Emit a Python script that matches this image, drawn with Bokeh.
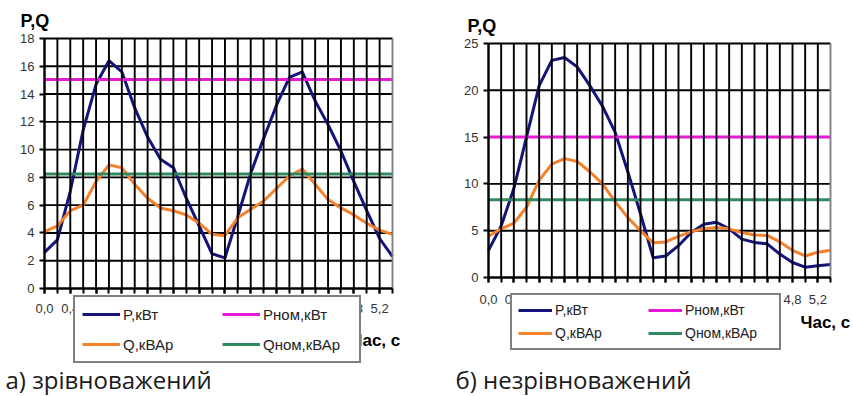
from bokeh.plotting import figure
from bokeh.models import Range1d, FixedTicker, CustomJSTickFormatter, Legend, LegendItem, Label
from bokeh.layouts import row
from bokeh.embed import file_html
from bokeh.resources import INLINE

# ---- data ----
time_s = [0.0, 0.2, 0.4, 0.6, 0.8, 1.0, 1.2, 1.4, 1.6, 1.8, 2.0, 2.2, 2.4, 2.6,
          2.8, 3.0, 3.2, 3.4, 3.6, 3.8, 4.0, 4.2, 4.4, 4.6, 4.8, 5.0, 5.2, 5.4]
x_label_ticks = [0.0, 0.4, 0.8, 1.2, 1.6, 2.0, 2.4, 2.8, 3.2, 3.6, 4.0, 4.4, 4.8, 5.2]

# a) balanced
p_bal = [2.6, 3.5, 7.0, 11.4, 14.7, 16.4, 15.6, 13.0, 10.9, 9.3, 8.7, 6.5, 4.5, 2.5,
         2.2, 5.2, 8.3, 10.8, 13.2, 15.2, 15.6, 13.5, 11.8, 9.9, 7.7, 5.6, 3.6, 2.3]
q_bal = [4.1, 4.5, 5.6, 6.0, 7.7, 8.9, 8.7, 7.5, 6.5, 5.8, 5.6, 5.3, 4.7, 3.9,
         3.8, 5.1, 5.7, 6.3, 7.2, 8.1, 8.6, 7.5, 6.4, 5.8, 5.3, 4.7, 4.2, 3.9]
p_nom_bal = 15.05
q_nom_bal = 8.25
y_ticks_bal = [0, 2, 4, 6, 8, 10, 12, 14, 16, 18]

# b) unbalanced
p_unb = [2.9, 5.5, 9.5, 15.0, 20.5, 23.2, 23.5, 22.5, 20.5, 18.3, 15.5, 11.3, 6.8, 2.1,
         2.3, 3.4, 4.8, 5.7, 5.9, 5.2, 4.1, 3.75, 3.6, 2.5, 1.6, 1.1, 1.25, 1.4]
q_unb = [4.4, 5.2, 5.8, 7.5, 10.4, 12.1, 12.7, 12.4, 11.3, 10.0, 8.1, 6.4, 5.0, 3.7,
         3.8, 4.4, 4.9, 5.2, 5.35, 5.2, 4.8, 4.55, 4.5, 3.8, 2.9, 2.3, 2.7, 2.9]
p_nom_unb = 15.0
q_nom_unb = 8.3
y_ticks_unb = [0, 5, 10, 15, 20, 25]

series_names = ["P,кВт", "Pном,кВт", "Q,кВАр", "Qном,кВАр"]
y_title = "P,Q"
x_title = "Час, с"
captions = ["а) зрівноважений", "б) незрівноважений"]

C_P = "#14147a"
C_PN = "#e619d9"
C_Q = "#f5822a"
C_QN = "#2f8a62"
AX_FONT = "Liberation Sans"
H = 396


def make_chart(p_vals, q_vals, p_nom, q_nom, y_ticks, w, plot_px, legend_loc,
               legend_font, legend_pad, legend_spacing, legend_label_w, glyph_w,
               glyph_h, caption, cap_xy, ytitle_xy, xtitle_xy, xlab_standoff):
    # plot_px = (left, right, top, bottom) of the data area in canvas pixels
    x0 = time_s[0]
    x1 = time_s[-1]
    y0 = y_ticks[0]
    y1 = y_ticks[-1]
    L, R, T, B = plot_px
    kx = (x1 - x0) / (R - L)
    ky = (y1 - y0) / (B - T)
    xr = Range1d(x0 - L * kx, x1 + (w - R) * kx)
    yr = Range1d(y0 - (H - B) * ky, y1 + T * ky)

    p = figure(width=w, height=H, output_backend="svg", toolbar_location=None,
               x_range=xr, y_range=yr, min_border=0, title=None,
               background_fill_color="white", border_fill_color="white")
    p.outline_line_color = None
    p.xgrid.visible = False
    p.ygrid.visible = False

    # horizontal grid (below the series)
    p.segment(x0=x0, y0=y_ticks, x1=x1, y1=y_ticks, line_color="black", line_width=1.9)

    xs = time_s
    rp = p.line(xs, p_vals, line_color=C_P, line_width=3)
    rpn = p.line(xs, [p_nom] * len(xs), line_color=C_PN, line_width=3)
    rq = p.line(xs, q_vals, line_color=C_Q, line_width=3)
    rqn = p.line(xs, [q_nom] * len(xs), line_color=C_QN, line_width=3)

    # vertical grid (drawn above the series, like the original)
    vcols = ["black"] * (len(time_s) - 1) + ["#808080"]
    p.segment(x0=time_s, y0=y0, x1=time_s, y1=y1, line_color=vcols, line_width=1.9)

    # axes, fixed at the origin
    p.xaxis.fixed_location = y0
    p.yaxis.fixed_location = x0
    p.xaxis.bounds = (x0, x1)
    p.yaxis.bounds = (y0, y1)
    p.xaxis.ticker = FixedTicker(ticks=x_label_ticks, minor_ticks=time_s)
    p.xaxis.formatter = CustomJSTickFormatter(code="return tick.toFixed(1).replace('.', ',');")
    p.yaxis.ticker = FixedTicker(ticks=y_ticks, minor_ticks=[])
    for ax in (p.xaxis[0], p.yaxis[0]):
        ax.axis_line_color = "black"
        ax.axis_line_width = 2
        ax.major_tick_line_color = "black"
        ax.major_tick_line_width = 2
        ax.major_tick_in = 0
        ax.major_tick_out = 5
        ax.minor_tick_line_color = "black"
        ax.minor_tick_line_width = 2
        ax.minor_tick_in = 0
        ax.minor_tick_out = 5
        ax.major_label_text_font = AX_FONT
        ax.major_label_text_font_size = "13px"
        ax.major_label_text_color = "#333333"
    p.yaxis.major_label_standoff = 5
    p.xaxis.major_label_standoff = xlab_standoff

    # titles
    p.add_layout(Label(x=ytitle_xy[0], y=ytitle_xy[1], x_units="screen", y_units="screen",
                       text=y_title, text_font=AX_FONT, text_font_style="bold",
                       text_font_size="18px", text_color="black", text_baseline="top"))
    p.add_layout(Label(x=xtitle_xy[0], y=xtitle_xy[1], x_units="screen", y_units="screen",
                       text=x_title, text_font=AX_FONT, text_font_style="bold",
                       text_font_size="17px", text_color="black", text_baseline="middle"))
    p.add_layout(Label(x=cap_xy[0], y=cap_xy[1], x_units="screen", y_units="screen",
                       text=caption, text_font="Open Sans", text_font_size="24px",
                       text_color="#1a1a1a", text_baseline="bottom"))

    legend = Legend(items=[LegendItem(label=series_names[0], renderers=[rp]),
                           LegendItem(label=series_names[1], renderers=[rpn]),
                           LegendItem(label=series_names[2], renderers=[rq]),
                           LegendItem(label=series_names[3], renderers=[rqn])],
                    location=legend_loc, orientation="horizontal", ncols=2,
                    label_text_font=AX_FONT, label_text_font_size=legend_font,
                    label_text_color="#222222", glyph_width=glyph_w, glyph_height=glyph_h,
                    label_standoff=3, padding=legend_pad, spacing=legend_spacing,
                    label_width=legend_label_w, label_height=glyph_h, margin=0,
                    border_line_color="black", border_line_width=2,
                    background_fill_color="white", background_fill_alpha=1.0)
    p.add_layout(legend, "center")
    return p


# canvas coords = image x (left chart) / image x - 428 (right chart); screen y = 396 - image y
p1 = make_chart(p_bal, q_bal, p_nom_bal, q_nom_bal, y_ticks_bal,
                w=428, plot_px=(44, 392, 38, 288),
                legend_loc=(73, 33), legend_font="15px", legend_pad=7,
                legend_spacing=10, legend_label_w=89, glyph_w=38, glyph_h=20,
                caption=captions[0], cap_xy=(5, 1), ytitle_xy=(20, 386),
                xtitle_xy=(350, 56), xlab_standoff=10)
p2 = make_chart(p_unb, q_unb, p_nom_unb, q_nom_unb, y_ticks_unb,
                w=425, plot_px=(60, 402, 43, 277),
                legend_loc=(82, 46), legend_font="14px", legend_pad=6,
                legend_spacing=5, legend_label_w=88, glyph_w=34, glyph_h=18,
                caption=captions[1], cap_xy=(27, 1), ytitle_xy=(39, 381),
                xtitle_xy=(372, 74), xlab_standoff=12)

layout = row(p1, p2)
open("out.html", "w").write(file_html(layout, INLINE))
